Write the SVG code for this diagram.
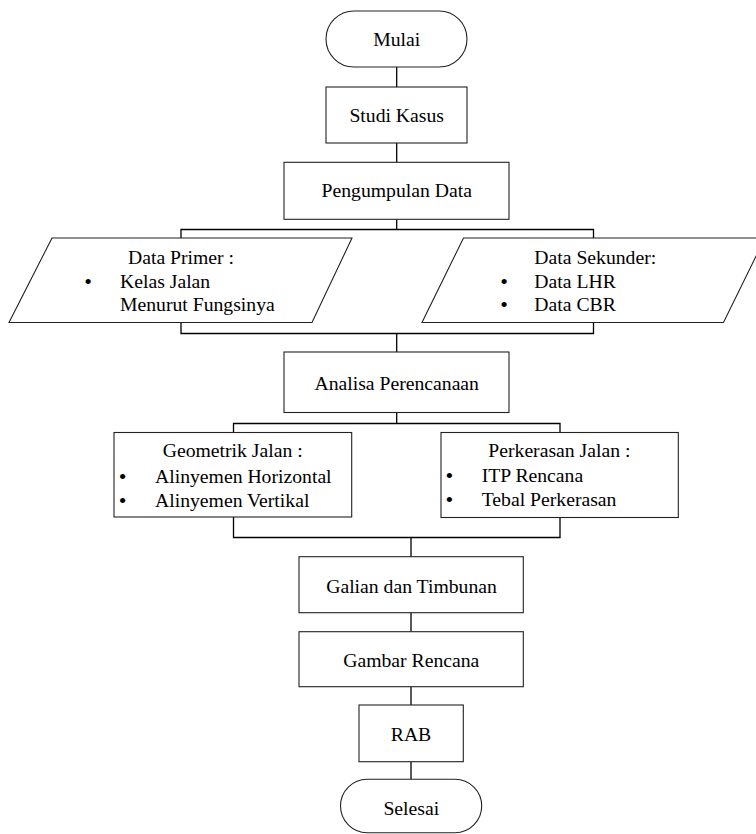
<svg xmlns="http://www.w3.org/2000/svg" width="756" height="834" viewBox="0 0 756 834">
<style>
.box{fill:#fff;stroke:#222;stroke-width:1.1}
.con{fill:none;stroke:#000;stroke-width:1.3}
text{font-family:"Liberation Serif","Times New Roman",serif;font-size:19.7px;fill:#000}
.c{text-anchor:middle}
.b{text-anchor:middle;font-size:22px}
</style>
<rect width="756" height="834" fill="#fff"/>
<g id="connectors">
<line class="con" x1="396.7" y1="67" x2="396.7" y2="87"/>
<line class="con" x1="396.7" y1="143" x2="396.7" y2="162.3"/>
<polyline class="con" points="396.7,219.3 396.7,229.5"/>
<polyline class="con" points="181,238 181,229.5 593.5,229.5 593.5,238"/>
<polyline class="con" points="181,322.5 181,333.5 593.5,333.5 593.5,322.5"/>
<line class="con" x1="396.7" y1="333.5" x2="396.7" y2="352"/>
<line class="con" x1="396.7" y1="412.5" x2="396.7" y2="423.5"/>
<polyline class="con" points="233.5,432.5 233.5,423.5 560,423.5 560,432.5"/>
<polyline class="con" points="233.5,517 233.5,537.5 560,537.5 560,517.5"/>
<line class="con" x1="411" y1="537.5" x2="411" y2="556.7"/>
<line class="con" x1="411" y1="612.7" x2="411" y2="631.7"/>
<line class="con" x1="411" y1="686.7" x2="411" y2="705"/>
<line class="con" x1="411" y1="761.7" x2="411" y2="779.3"/>
</g>
<g id="mulai">
<rect class="box" x="326" y="11" width="141" height="56" rx="28" ry="28"/>
<text class="c" x="396.7" y="45.7">Mulai</text>
</g>
<g id="studi-kasus">
<rect class="box" x="326" y="87" width="141" height="56"/>
<text class="c" x="396.7" y="121.7">Studi Kasus</text>
</g>
<g id="pengumpulan-data">
<rect class="box" x="284" y="162.3" width="225" height="57"/>
<text class="c" x="396.7" y="197.3">Pengumpulan Data</text>
</g>
<g id="data-primer">
<polygon class="box" points="52,238 352,238 312,322.5 9,322.5"/>
<text x="128" y="264">Data Primer :</text>
<text class="b" x="88" y="288.5">•</text>
<text x="120" y="287.5">Kelas Jalan</text>
<text x="120" y="311">Menurut Fungsinya</text>
</g>
<g id="data-sekunder">
<polygon class="box" points="463.5,238 765,238 723.5,322.5 422,322.5"/>
<text x="534.3" y="264">Data Sekunder:</text>
<text class="b" x="504" y="288.5">•</text>
<text x="534.3" y="287.5">Data LHR</text>
<text class="b" x="504" y="312">•</text>
<text x="534.3" y="311">Data CBR</text>
</g>
<g id="analisa-perencanaan">
<rect class="box" x="284" y="352" width="225" height="60.5"/>
<text class="c" x="396.7" y="390.4">Analisa Perencanaan</text>
</g>
<g id="geometrik-jalan">
<rect class="box" x="114" y="432.5" width="237.7" height="84.5"/>
<text x="162.7" y="457.3">Geometrik Jalan :</text>
<text class="b" x="122.7" y="483.5">•</text>
<text x="155" y="482.5">Alinyemen Horizontal</text>
<text class="b" x="122.7" y="507.5">•</text>
<text x="155" y="506.5">Alinyemen Vertikal</text>
</g>
<g id="perkerasan-jalan">
<rect class="box" x="441" y="432.5" width="237.3" height="85"/>
<text x="488.3" y="457.3">Perkerasan Jalan :</text>
<text class="b" x="449.3" y="483">•</text>
<text x="481.7" y="482">ITP Rencana</text>
<text class="b" x="449.3" y="507">•</text>
<text x="481.7" y="506">Tebal Perkerasan</text>
</g>
<g id="galian-timbunan">
<rect class="box" x="299" y="556.7" width="224.3" height="56"/>
<text class="c" x="411.5" y="593.3">Galian dan Timbunan</text>
</g>
<g id="gambar-rencana">
<rect class="box" x="299" y="631.7" width="224.3" height="55"/>
<text class="c" x="411.3" y="667.3">Gambar Rencana</text>
</g>
<g id="rab">
<rect class="box" x="359" y="705" width="104.3" height="56.7"/>
<text class="c" x="411" y="741">RAB</text>
</g>
<g id="selesai">
<rect class="box" x="340.5" y="779.3" width="141.2" height="53.4" rx="26.7" ry="26.7"/>
<text class="c" x="411.3" y="815">Selesai</text>
</g>
</svg>
